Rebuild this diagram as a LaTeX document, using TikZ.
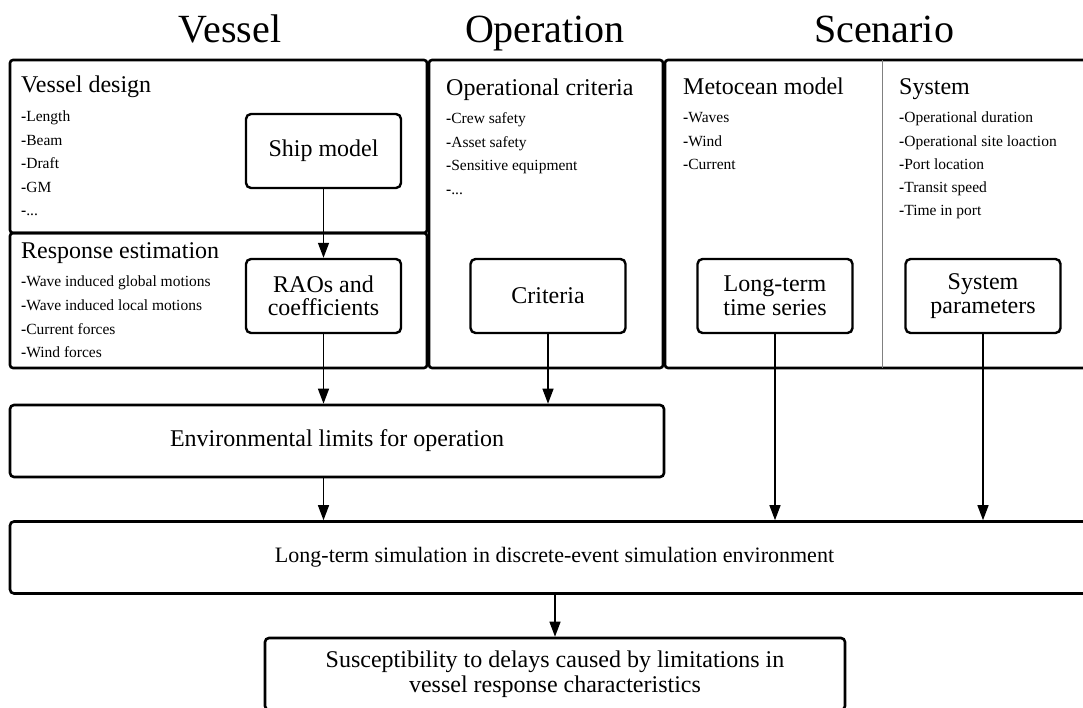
\documentclass[tikz,border=0pt]{standalone}
\usepackage{fontspec}
\setmainfont{Liberation Serif}
\usepackage{tikz}
\usetikzlibrary{arrows.meta,positioning}
\newcommand\etcdots{...}

\begin{document}
\begin{tikzpicture}[x=1pt, y=-1pt,
    panel/.style={draw, line width=2.6pt, rounded corners=3pt},
    inner box/.style={draw, line width=2.4pt, rounded corners=5pt, minimum width=155pt, minimum height=74pt, inner sep=0pt, align=center, font=\fontsize{24}{23.5}\selectfont},
    main box/.style={draw, line width=2.6pt, rounded corners=4pt, minimum height=72pt, inner sep=0pt, align=center, font=\fontsize{24}{25}\selectfont},
    title/.style={anchor=base, inner sep=0pt, font=\fontsize{40}{44}\selectfont},
    head/.style={anchor=base west, inner sep=0pt, font=\fontsize{24}{26}\selectfont},
    item/.style={anchor=base west, inner sep=0pt, font=\fontsize{15.5}{18}\selectfont},
    flow/.style={-{Triangle[length=15pt,width=11pt]}, line width=1.3pt}
]
\useasboundingbox (0,0) rectangle (1083,708);

% column titles
\node[title] (vessel) at (230,43) {Vessel};
\node[title] (operation) at (545,43) {Operation};
\node[title] (scenario) at (884,43) {Scenario};

% panels
\draw[panel] (10,60) rectangle (427,233);
\draw[panel] (10,233) rectangle (427,368);
\draw[panel] (429,60) rectangle (663,368);
\draw[panel] (665,60) rectangle (1100,368);
\draw[gray, line width=0.8pt] (882,60) -- (882,368);

% panel headings
\node[head] (vd) at (21,93) {Vessel design};
\node[head] (re) at (21,259) {Response estimation};
\node[head] (oc) at (446,96) {Operational criteria};
\node[head] (mm) at (683,95) {Metocean model};
\node[head] (sy) at (899,95) {System};

% lists
\foreach \t [count=\i] in {Length,Beam,Draft,GM,\etcdots}
    \node[item] (vd\i) at (21,98.5+23.5*\i) {\textbf{-}\t};
\foreach \t [count=\i] in {Wave induced global motions,Wave induced local motions,Current forces,Wind forces}
    \node[item] (re\i) at (21,263.5+23.5*\i) {\textbf{-}\t};
\foreach \t [count=\i] in {Crew safety,Asset safety,Sensitive equipment,\etcdots}
    \node[item] (oc\i) at (446,100.5+23.5*\i) {\textbf{-}\t};
\foreach \t [count=\i] in {Waves,Wind,Current}
    \node[item] (mm\i) at (683,99.5+23.5*\i) {\textbf{-}\t};
\foreach \t [count=\i] in {Operational duration,Operational site loaction,Port location,Transit speed,Time in port}
    \node[item] (sy\i) at (899,99.5+23.3*\i) {\textbf{-}\t};

% model boxes
\node[inner box] (ship) at (323.5,151) {Ship model};
\node[inner box] (rao) at (323.5,296) {RAOs and\\coefficients};
\node[inner box] (crit) at (548,296) {Criteria};
\node[inner box] (lts) at (775,296) {Long-term\\time series};
\node[inner box] (sys) at (983,296) {System\\parameters};

% flow boxes
\node[main box, minimum width=654pt] (env) at (337,441) {Environmental limits for operation};
\node[main box, minimum width=1089pt, font=\fontsize{22}{25}\selectfont] (sim) at (554.5,557.5) {Long-term simulation in discrete-event simulation environment};
\node[main box, minimum width=580pt] (susc) at (555,674) {Susceptibility to delays caused by limitations in\\vessel response characteristics};

% connectors
\draw[flow] (ship) -- (rao);
\draw[flow] (rao.south) -- (rao.south |- env.north);
\draw[flow] (crit.south) -- (crit.south |- env.north);
\draw[flow] (lts.south) -- (lts.south |- sim.north);
\draw[flow] (sys.south) -- (sys.south |- sim.north);
\draw[flow] (env.south -| rao) -- (sim.north -| rao);
\draw[flow] (sim.south -| susc) -- (susc.north);
\end{tikzpicture}
\end{document}
